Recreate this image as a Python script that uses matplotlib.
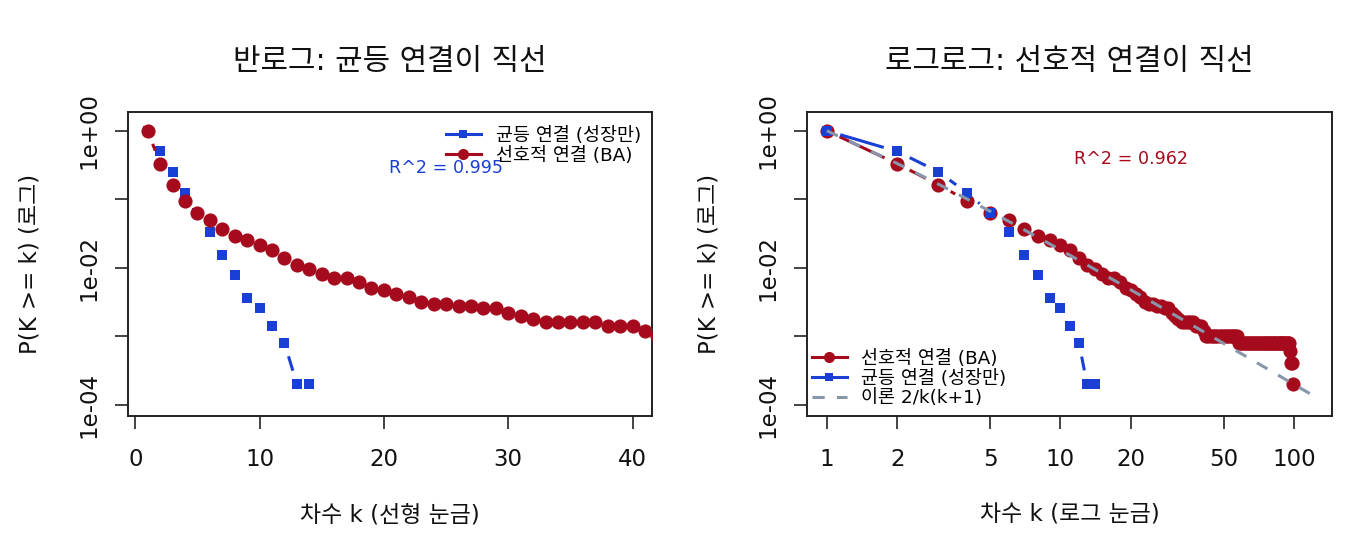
import numpy as np
import matplotlib
matplotlib.use('Agg')
import matplotlib.pyplot as plt
from matplotlib.lines import Line2D
from matplotlib.ticker import NullLocator

plt.rcParams['font.family'] = ['DejaVu Sans', 'Noto Sans CJK KR']

RED = '#A50B1C'
BLUE = '#1A3FD4'
GREY = '#8896AC'
INK = '#222222'

# P(K >= k) for the BA (preferential attachment) network, k = 1..99
k_ba = np.arange(1, 100)
p_ba = [1.0, 0.33, 0.163, 0.095, 0.0635, 0.049, 0.0367, 0.0293, 0.0251, 0.0217,
        0.0183, 0.0137, 0.0109, 0.0095, 0.0082, 0.0070, 0.0070, 0.0062, 0.0051, 0.0047,
        0.0042, 0.0038, 0.0032, 0.0030, 0.0030, 0.0028, 0.0028, 0.0026, 0.0026, 0.0022,
        0.0020, 0.0018, 0.0016, 0.0016, 0.0016, 0.0016, 0.0016, 0.0014, 0.0014, 0.0014,
        0.0012, 0.0010, 0.0010, 0.0010, 0.0010, 0.0010, 0.0010, 0.0010, 0.0010, 0.0010,
        0.0010, 0.0010, 0.0010, 0.0010, 0.0010, 0.0010, 0.0010, 0.0008, 0.0008, 0.0008,
        0.0008, 0.0008, 0.0008, 0.0008, 0.0008, 0.0008, 0.0008, 0.0008, 0.0008, 0.0008,
        0.0008, 0.0008, 0.0008, 0.0008, 0.0008, 0.0008, 0.0008, 0.0008, 0.0008, 0.0008,
        0.0008, 0.0008, 0.0008, 0.0008, 0.0008, 0.0008, 0.0008, 0.0008, 0.0008, 0.0008,
        0.0008, 0.0008, 0.0008, 0.0008, 0.0008, 0.0006, 0.0004, 0.0004, 0.0002]

# P(K >= k) for uniform attachment (growth only), k = 1..14
k_uni = np.arange(1, 15)
p_uni = [1.0, 0.50, 0.252, 0.123, 0.0635, 0.0332, 0.0153, 0.0078, 0.0036, 0.0026,
         0.0014, 0.0008, 0.0002, 0.0002]

# theory curve named in the legend: 2/k(k+1)
k_th = np.arange(1, 118)
p_th = 2.0 / (k_th * (k_th + 1))

r2_uni = 'R^2 = 0.995'
r2_ba = 'R^2 = 0.962'

lab_uni = '균등 연결 (성장만)'
lab_ba = '선호적 연결 (BA)'
lab_th = '이론 2/k(k+1)'

ytick_vals = [1, 1e-1, 1e-2, 1e-3, 1e-4]
ytick_labs = ['1e+00', '', '1e-02', '', '1e-04']
xtick_lin = [0, 10, 20, 30, 40]
xtick_log = [1, 2, 5, 10, 20, 50, 100]

FS_TICK = 16.5
FS_SMALL = 12.6
FS_LEG = 13.3
GAP = 14.0   # px gap around points, like R type="b"


def line_b(ax, x, y, color, z):
    # connecting segments that stop short of each point
    pts = ax.transData.transform(np.column_stack([x, y]))
    inv = ax.transData.inverted()
    for (x0, y0), (x1, y1) in zip(pts[:-1], pts[1:]):
        d = np.hypot(x1 - x0, y1 - y0)
        if d <= 2 * GAP:
            continue
        ux, uy = (x1 - x0) / d, (y1 - y0) / d
        a = inv.transform((x0 + ux * GAP, y0 + uy * GAP))
        b = inv.transform((x1 - ux * GAP, y1 - uy * GAP))
        ax.plot([a[0], b[0]], [a[1], b[1]], color=color, lw=2.2,
                solid_capstyle='butt', zorder=z)


def style(ax, title, xlabel):
    for s in ax.spines.values():
        s.set_linewidth(1.4)
        s.set_color(INK)
    ax.tick_params(direction='out', length=9.5, width=1.2, color=INK,
                   labelsize=FS_TICK, labelcolor='#111111')
    ax.tick_params(axis='x', pad=13.5)
    ax.tick_params(axis='y', pad=10.5)
    ax.set_yticks(ytick_vals)
    ax.set_yticklabels(ytick_labs, rotation=90, va='center')
    ax.yaxis.set_minor_locator(NullLocator())
    ax.text(0.5, 1.165, title, transform=ax.transAxes, ha='center', va='center',
            fontsize=21.5, color='#111111')
    ax.set_xlabel(xlabel, fontsize=FS_TICK, va='center', color='#111111')
    ax.xaxis.set_label_coords(0.5, -0.325)
    ax.set_ylabel('P(K >= k) (로그)', fontsize=FS_TICK, va='center', color='#111111')
    ax.yaxis.set_label_coords(-0.188, 0.5)


fig = plt.figure(figsize=(13.6, 5.4), dpi=100)
axL = fig.add_axes([128.3 / 1360, 124 / 540, 523.7 / 1360, 304.3 / 540])
axR = fig.add_axes([807.4 / 1360, 124 / 540, 524.6 / 1360, 304.3 / 540])

ylo, yhi = 10 ** -4.1646, 10 ** 0.2785

# ---- left: semi-log ----
axL.set_yscale('log')
axL.set_xlim(-0.56, 41.56)
axL.set_ylim(ylo, yhi)
line_b(axL, k_uni, p_uni, BLUE, 2)
axL.plot(k_uni, p_uni, 's', ms=7.8, mew=0, color=BLUE, zorder=2)
line_b(axL, k_ba, p_ba, RED, 3)
axL.plot(k_ba, p_ba, 'o', ms=10.2, mew=0, color=RED, zorder=3)
axL.set_xticks(xtick_lin)
axL.text(25, 0.283, r2_uni, color=BLUE, fontsize=FS_SMALL, ha='center', va='center')
style(axL, '반로그: 균등 연결이 직선', '차수 k (선형 눈금)')

hL = [Line2D([], [], color=BLUE, lw=2.2, marker='s', ms=6, mew=0),
      Line2D([], [], color=RED, lw=2.2, marker='o', ms=8, mew=0)]
axL.legend(hL, [lab_uni, lab_ba], loc='upper right', bbox_to_anchor=(0.979, 0.95),
           frameon=False, fontsize=FS_LEG, borderpad=0, borderaxespad=0,
           handlelength=1.9, handletextpad=0.8, labelspacing=0.1)

# ---- right: log-log ----
axR.set_xscale('log')
axR.set_yscale('log')
axR.set_xlim(10 ** -0.0832, 10 ** 2.1624)
axR.set_ylim(ylo, yhi)
line_b(axR, k_ba, p_ba, RED, 2)
axR.plot(k_ba, p_ba, 'o', ms=10.2, mew=0, color=RED, zorder=2)
line_b(axR, k_uni, p_uni, BLUE, 3)
axR.plot(k_uni, p_uni, 's', ms=7.8, mew=0, color=BLUE, zorder=3)
axR.plot(k_th, p_th, color=GREY, lw=2.2, linestyle=(0, (4, 4)), zorder=4)
axR.set_xticks(xtick_log)
axR.set_xticklabels([str(v) for v in xtick_log])
axR.xaxis.set_minor_locator(NullLocator())
axR.text(20, 0.383, r2_ba, color=RED, fontsize=FS_SMALL, ha='center', va='center')
style(axR, '로그로그: 선호적 연결이 직선', '차수 k (로그 눈금)')

hR = [Line2D([], [], color=RED, lw=2.2, marker='o', ms=8, mew=0),
      Line2D([], [], color=BLUE, lw=2.2, marker='s', ms=6, mew=0),
      Line2D([], [], color=GREY, lw=2.2, linestyle=(0, (4, 4)))]
axR.legend(hR, [lab_ba, lab_uni, lab_th], loc='lower left', bbox_to_anchor=(0.008, 0.028),
           frameon=False, fontsize=FS_LEG, borderpad=0, borderaxespad=0,
           handlelength=1.9, handletextpad=0.8, labelspacing=0.1)

fig.savefig('out.png', dpi=100)
